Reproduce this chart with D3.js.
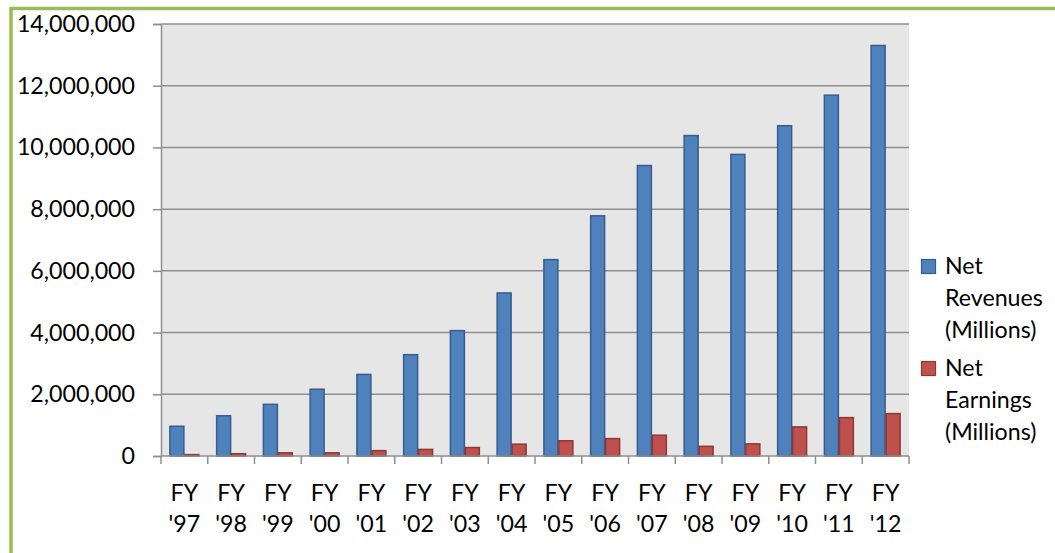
<!DOCTYPE html>
<html>
<head>
<meta charset="utf-8">
<script src="https://cdn.jsdelivr.net/npm/d3@7/dist/d3.min.js"></script>
<style>
  html, body { margin: 0; padding: 0; background: #fff; }
  svg { display: block; font-family: Lato, "Open Sans", sans-serif; }
</style>
</head>
<body>
<svg id="chart" width="1055" height="553"></svg>
<script>
// Fiscal years on the x axis
const years = ["FY\n'97", "FY\n'98", "FY\n'99", "FY\n'00", "FY\n'01", "FY\n'02", "FY\n'03", "FY\n'04",
               "FY\n'05", "FY\n'06", "FY\n'07", "FY\n'08", "FY\n'09", "FY\n'10", "FY\n'11", "FY\n'12"];

// Series
const seriesNames = ["Net Revenues (Millions)", "Net Earnings (Millions)"];
const netRevenues = [980000, 1320000, 1690000, 2180000, 2660000, 3300000, 4080000, 5300000,
                     6380000, 7800000, 9430000, 10400000, 9790000, 10720000, 11710000, 13320000];
const netEarnings = [60000, 90000, 120000, 120000, 190000, 230000, 290000, 400000,
                     510000, 580000, 690000, 330000, 410000, 960000, 1260000, 1390000];

// Y axis ticks
const yTicks = [0, 2000000, 4000000, 6000000, 8000000, 10000000, 12000000, 14000000];

const fills = ["#4f81bd", "#c0504d"];
const strokes = ["#385d8a", "#8c3836"];
const fontSize = 23.2;

const svg = d3.select("#chart");

// Frame along the top and left edges
svg.append("line").attr("x1", 11).attr("x2", 1055).attr("y1", 8.5).attr("y2", 8.5)
  .attr("stroke", "#9bbb59").attr("stroke-width", 3.5);
svg.append("line").attr("x1", 11).attr("x2", 11).attr("y1", 7).attr("y2", 553)
  .attr("stroke", "#9bbb59").attr("stroke-width", 3.5);

const plot = { left: 161, right: 909, top: 24, bottom: 456 };

const x = d3.scaleBand().domain(years).range([plot.left, plot.right]).padding(0);
const x1 = d3.scaleBand().domain(seriesNames).range([0, x.bandwidth()])
  .paddingInner(0).paddingOuter(0.56);
const y = d3.scaleLinear().domain([0, 14000000]).range([plot.bottom, plot.top]);

// Plot background
svg.append("rect")
  .attr("x", plot.left).attr("y", plot.top)
  .attr("width", plot.right - plot.left).attr("height", plot.bottom - plot.top)
  .attr("fill", "#e6e6e6");

// Horizontal gridlines
svg.append("g").selectAll("line").data(yTicks.filter(d => d > 0)).join("line")
  .attr("x1", plot.left).attr("x2", plot.right)
  .attr("y1", d => y(d)).attr("y2", d => y(d))
  .attr("stroke", "#8e8e8e").attr("stroke-width", 1.5);

// Y axis
const yAxis = svg.append("g")
  .attr("transform", `translate(${plot.left},0)`)
  .call(d3.axisLeft(y).tickValues(yTicks).tickSize(8).tickPadding(18)
    .tickFormat(d3.format(",")));
yAxis.select(".domain").attr("stroke", "#8e8e8e").attr("stroke-width", 1.5);
yAxis.selectAll(".tick line").attr("stroke", "#8e8e8e").attr("stroke-width", 1.5);
yAxis.selectAll(".tick text").attr("fill", "#000").attr("font-size", fontSize)
  .attr("font-family", "Lato, 'Open Sans', sans-serif");

// Bars
const data = years.map((yr, i) => ({ yr, vals: [netRevenues[i], netEarnings[i]] }));
const groups = svg.append("g").selectAll("g").data(data).join("g")
  .attr("transform", d => `translate(${x(d.yr)},0)`);
groups.selectAll("rect")
  .data(d => d.vals.map((v, k) => ({ k, v })))
  .join("rect")
  .attr("x", d => x1(seriesNames[d.k]) + 0.5)
  .attr("width", x1.bandwidth() - 1)
  .attr("y", d => y(d.v) + 0.5)
  .attr("height", d => Math.max(0, y(0) - y(d.v) - 0.5))
  .attr("fill", d => fills[d.k])
  .attr("stroke", d => strokes[d.k])
  .attr("stroke-width", 1.5);

// X axis
const xAxis = svg.append("g")
  .attr("transform", `translate(0,${plot.bottom})`);
xAxis.append("line").attr("x1", plot.left).attr("x2", plot.right)
  .attr("stroke", "#8e8e8e").attr("stroke-width", 1.5);
xAxis.selectAll("line.tk").data(years.concat([null])).join("line").attr("class", "tk")
  .attr("x1", (d, i) => i < years.length ? x(d) : plot.right)
  .attr("x2", (d, i) => i < years.length ? x(d) : plot.right)
  .attr("y1", 0).attr("y2", 8)
  .attr("stroke", "#8e8e8e").attr("stroke-width", 1.5);
const xl = xAxis.selectAll("text").data(years).join("text")
  .attr("x", d => x(d) + x.bandwidth() / 2)
  .attr("text-anchor", "middle")
  .attr("font-size", fontSize)
  .attr("fill", "#000");
xl.selectAll("tspan").data(d => d.split("\n")).join("tspan")
  .attr("x", function () { return d3.select(this.parentNode).attr("x"); })
  .attr("y", (d, i) => 45 + i * 31)
  .text(d => d);

// Legend
const legend = svg.append("g");
const legendRows = [["Net", "Revenues", "(Millions)"], ["Net", "Earnings", "(Millions)"]];
legendRows.forEach((lines, k) => {
  const top = 259 + k * 102;
  legend.append("rect")
    .attr("x", 921.5).attr("y", top + 0.5).attr("width", 14).attr("height", 14)
    .attr("fill", fills[k]).attr("stroke", strokes[k]).attr("stroke-width", 1.2);
  lines.forEach((t, j) => {
    legend.append("text")
      .attr("x", 945).attr("y", top + 15 + j * 32)
      .attr("font-size", fontSize).attr("fill", "#000")
      .text(t);
  });
});
</script>
</body>
</html>
